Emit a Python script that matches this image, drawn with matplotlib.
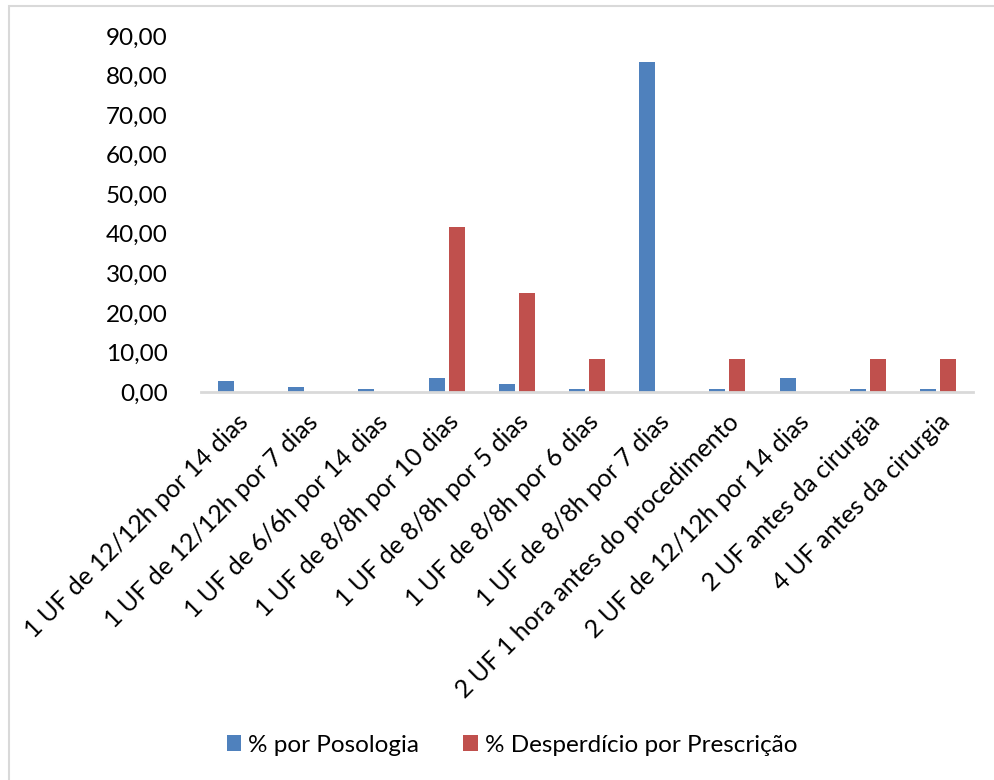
import matplotlib
matplotlib.use('Agg')
import matplotlib.pyplot as plt
from matplotlib.patches import Rectangle
import numpy as np

# categorias (posologias)
categorias = [
    "1 UF de 12/12h por 14 dias",
    "1 UF de 12/12h por 7 dias",
    "1 UF de 6/6h por 14 dias",
    "1 UF de 8/8h por 10 dias",
    "1 UF de 8/8h por 5 dias",
    "1 UF de 8/8h por 6 dias",
    "1 UF de 8/8h por 7 dias",
    "2 UF 1 hora antes do procedimento",
    "2 UF de 12/12h por 14 dias",
    "2 UF antes da cirurgia",
    "4 UF antes da cirurgia",
]
pct_posologia = [2.78, 1.39, 0.69, 3.47, 2.08, 0.69, 83.33, 0.69, 3.47, 0.69, 0.69]
pct_desperdicio = [0, 0, 0, 41.67, 25.00, 8.33, 0, 8.33, 0, 8.33, 8.33]
yticks = [0, 10, 20, 30, 40, 50, 60, 70, 80, 90]

plt.rcParams['font.family'] = ['Lato', 'DejaVu Sans']

W, H = 994, 780
fig = plt.figure(figsize=(W / 100, H / 100), dpi=100)

# moldura do grafico
fig.patches.append(Rectangle((9 / W, -0.1), 1.2, (H - 6) / H + 0.1,
                             transform=fig.transFigure, fill=False,
                             edgecolor='#d9d9d9', linewidth=1.5))

ax = fig.add_axes([201 / W, 1 - 392 / H, 772 / W, 356 / H])

x = np.arange(len(categorias))
w = 0.228
off = 0.142
ax.bar(x - off, pct_posologia, w, color='#4f81bd', label='% por Posologia')
ax.bar(x + off, pct_desperdicio, w, color='#c0504d', label='% Desperdício por Prescrição')

ax.set_xlim(-0.5, len(categorias) - 0.5)
ax.set_ylim(0, 90)
ax.set_yticks(yticks)
ax.set_yticklabels([f"{v:.2f}".replace('.', ',') for v in yticks], fontsize=17.5)
ax.set_xticks(x)
ax.set_xticklabels(categorias, rotation=45, ha='right', rotation_mode='anchor',
                   fontsize=18)
ax.tick_params(axis='y', length=0, pad=24)
ax.tick_params(axis='x', length=0, pad=13)

for s in ['top', 'right', 'left']:
    ax.spines[s].set_visible(False)
ax.spines['bottom'].set_color('#d9d9d9')
ax.spines['bottom'].set_linewidth(2)

fig.legend(loc='center', bbox_to_anchor=(512 / W, 1 - 745 / H), ncol=2,
           frameon=False, fontsize=17.5, handlelength=0.6, handleheight=0.6,
           handletextpad=0.3, columnspacing=1.8)

fig.savefig('out.png', dpi=100)
